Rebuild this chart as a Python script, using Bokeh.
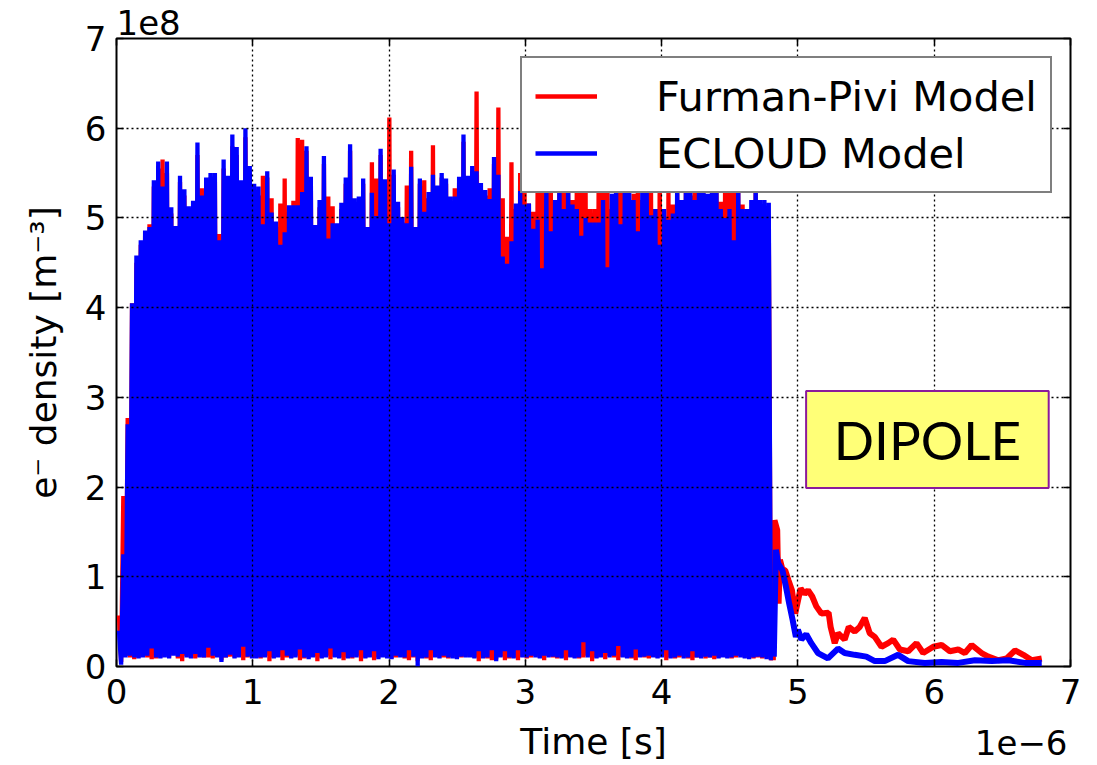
import numpy as np
from bokeh.plotting import figure
from bokeh.models import (Range1d, LinearAxis, FixedTicker, Legend, LegendItem,
                          BoxAnnotation, Label, Title, ColumnDataSource)
from bokeh.embed import file_html
from bokeh.resources import INLINE

# ---------------- data (time in 1e-6 s, density in 1e8 m^-3) ----------------
BUNCH_START = 0.018     # first bunch time [us]
BUNCH_SPACING = 0.032   # bunch spacing [us]

fp_peaks = [0.57, 1.90, 2.77, 4.05, 4.50, 4.70, 4.80, 4.93, 5.35, 5.55,
            5.65, 5.50, 5.05, 4.85, 5.40, 5.25, 5.05, 5.10, 5.70, 5.33,
            5.35, 5.45, 5.40, 4.82, 5.55, 5.40, 5.80, 5.70, 5.35, 5.90,
            5.50, 5.30, 5.25, 5.47, 5.45, 5.22, 4.90, 5.16, 5.44, 5.05,
            5.19, 5.89, 5.87, 5.75, 5.40, 4.85, 5.12, 5.60, 5.24, 5.13,
            4.88, 5.10, 5.38, 5.75, 5.15, 5.18, 5.38, 4.85, 5.62, 5.44,
            5.70, 5.38, 6.12, 5.48, 5.12, 4.95, 5.36, 5.75, 4.90, 5.38,
            5.42, 5.22, 5.81, 5.30, 5.45, 5.38, 5.18, 5.33, 5.40, 5.85,
            5.40, 5.52, 6.41, 5.32, 5.25, 5.33, 5.60, 6.23, 5.22, 4.79,
            5.62, 5.10, 5.50, 5.30, 5.16, 5.07, 5.40, 5.60, 5.35, 5.60,
            5.00, 5.40, 5.50, 5.30, 5.20, 5.60, 5.50, 5.30, 5.10, 5.10,
            5.50, 5.45, 5.55, 5.10, 5.30, 5.50, 5.35, 5.20, 5.27, 5.50,
            5.20, 5.30, 5.30, 5.10, 5.50, 5.00, 5.30, 5.15, 5.30, 5.10,
            5.30, 5.25, 5.45, 5.35, 5.30, 5.10, 5.30, 5.30, 5.18, 5.50,
            5.45, 5.50, 5.30, 5.15, 5.05, 4.90, 5.30, 5.00, 5.03, 5.00]

fp_troughs = [0.05, 0.12, 0.10, 0.08, 0.10, 0.12, 0.10, 0.08, 0.09, 0.10,
              0.12, 0.10, 0.13, 0.09, 0.06, 0.12, 0.10, 0.09, 0.11, 0.10,
              0.10, 0.09, 0.12, 0.07, 0.10, 0.11, 0.10, 0.12, 0.07, 0.10,
              0.11, 0.10, 0.09, 0.12, 0.06, 0.10, 0.11, 0.07, 0.10, 0.10,
              0.12, 0.07, 0.09, 0.10, 0.11, 0.06, 0.10, 0.12, 0.08, 0.11,
              0.10, 0.07, 0.10, 0.09, 0.12, 0.06, 0.10, 0.11, 0.07, 0.10,
              0.11, 0.10, 0.09, 0.10, 0.12, 0.09, 0.07, 0.10, 0.06, 0.10,
              0.09, 0.07, 0.12, 0.10, 0.10, 0.09, 0.11, 0.10, 0.10, 0.11,
              0.12, 0.10, 0.06, 0.10, 0.09, 0.07, 0.08, 0.11, 0.07, 0.09,
              0.10, 0.07, 0.11, 0.09, 0.10, 0.12, 0.10, 0.07, 0.12, 0.10,
              0.09, 0.10, 0.07, 0.11, 0.10, 0.09, 0.10, 0.12, 0.06, 0.10,
              0.11, 0.08, 0.12, 0.10, 0.07, 0.11, 0.10, 0.09, 0.07, 0.11,
              0.10, 0.09, 0.11, 0.10, 0.12, 0.07, 0.10, 0.09, 0.10, 0.11,
              0.09, 0.07, 0.10, 0.11, 0.09, 0.10, 0.08, 0.10, 0.11, 0.10,
              0.09, 0.10, 0.12, 0.10, 0.10, 0.09, 0.10, 0.09, 0.10, 0.07]

ec_peaks = [0.40, 1.25, 2.70, 4.05, 4.58, 4.75, 4.86, 4.90, 5.42, 5.63,
            5.35, 5.63, 5.12, 4.91, 5.47, 5.32, 5.13, 5.19, 5.84, 5.25,
            5.45, 5.50, 5.50, 4.75, 5.65, 5.47, 5.93, 5.79, 5.42, 6.00,
            5.58, 5.38, 5.35, 4.93, 5.52, 5.06, 4.96, 4.70, 4.84, 5.14,
            5.14, 5.14, 5.29, 5.80, 5.46, 4.92, 5.20, 5.69, 4.77, 4.94,
            4.94, 5.17, 5.45, 5.82, 5.22, 5.24, 5.44, 4.90, 5.28, 5.02,
            5.77, 5.43, 4.94, 5.54, 5.18, 5.01, 4.94, 5.57, 4.90, 5.44,
            5.07, 5.29, 5.48, 5.36, 5.50, 5.44, 5.24, 5.24, 5.46, 5.93,
            5.47, 5.58, 5.52, 5.39, 5.31, 5.21, 5.68, 5.48, 4.57, 4.49,
            4.74, 5.16, 5.30, 5.15, 5.16, 4.88, 4.98, 4.44, 5.45, 4.85,
            5.20, 5.45, 5.10, 5.50, 5.15, 5.10, 4.80, 5.00, 4.95, 4.95,
            4.95, 5.20, 4.45, 5.27, 5.45, 4.93, 5.50, 5.40, 5.20, 4.85,
            5.30, 5.45, 5.03, 5.10, 4.70, 5.10, 4.98, 5.05, 5.45, 5.20,
            5.45, 5.40, 5.20, 5.45, 5.40, 5.27, 5.45, 5.40, 5.10, 5.00,
            5.10, 4.75, 5.40, 5.10, 5.10, 5.20, 5.40, 5.20, 5.20, 5.17]

ec_troughs = [0.02, 0.10, 0.12, 0.10, 0.09, 0.10, 0.12, 0.20, 0.10, 0.09,
              0.10, 0.09, 0.12, 0.11, 0.14, 0.10, 0.09, 0.14, 0.10, 0.10,
              0.21, 0.12, 0.10, 0.05, 0.10, 0.13, 0.09, 0.10, 0.22, 0.11,
              0.09, 0.09, 0.10, 0.10, 0.17, 0.09, 0.10, 0.18, 0.12, 0.09,
              0.10, 0.19, 0.10, 0.08, 0.10, 0.15, 0.09, 0.10, 0.20, 0.10,
              0.09, 0.16, 0.09, 0.10, 0.10, 0.18, 0.09, 0.10, 0.17, 0.08,
              0.10, 0.09, 0.08, 0.12, 0.10, 0.10, 0.18, 0.11, 0.00, 0.09,
              0.10, 0.18, 0.10, 0.09, 0.12, 0.10, 0.09, 0.08, 0.11, 0.10,
              0.10, 0.09, 0.17, 0.09, 0.10, 0.18, 0.06, 0.10, 0.17, 0.10,
              0.09, 0.18, 0.10, 0.10, 0.12, 0.10, 0.09, 0.12, 0.10, 0.11,
              0.10, 0.09, 0.18, 0.10, 0.09, 0.10, 0.27, 0.10, 0.17, 0.09,
              0.10, 0.15, 0.10, 0.12, 0.23, 0.10, 0.09, 0.10, 0.19, 0.10,
              0.11, 0.12, 0.10, 0.09, 0.10, 0.18, 0.09, 0.10, 0.12, 0.09,
              0.10, 0.17, 0.10, 0.09, 0.11, 0.10, 0.12, 0.09, 0.10, 0.09,
              0.10, 0.12, 0.10, 0.09, 0.08, 0.10, 0.11, 0.10, 0.08, 0.07]

# decay after the bunch train
fp_tail_t = [4.816, 4.828, 4.848, 4.858, 4.868, 4.885, 4.907, 4.931, 4.956, 4.980,
             5.020, 5.049, 5.074, 5.105, 5.135, 5.172, 5.225, 5.240, 5.270, 5.294,
             5.343, 5.373, 5.417, 5.453, 5.490, 5.527, 5.564, 5.613, 5.662, 5.699,
             5.748, 5.809, 5.870, 5.919, 5.993, 6.054, 6.115, 6.176, 6.225, 6.275,
             6.348, 6.397, 6.471, 6.532, 6.593, 6.654, 6.716, 6.789]
fp_tail_v = [0.07, 1.63, 1.52, 0.70, 1.19, 1.09, 1.07, 0.96, 0.85, 0.59,
             0.87, 0.81, 0.85, 0.78, 0.67, 0.59, 0.60, 0.44, 0.26, 0.37,
             0.30, 0.44, 0.39, 0.44, 0.54, 0.37, 0.33, 0.22, 0.26, 0.30,
             0.19, 0.17, 0.26, 0.15, 0.22, 0.24, 0.17, 0.19, 0.15, 0.24,
             0.15, 0.11, 0.07, 0.09, 0.18, 0.13, 0.07, 0.09]

ec_tail_t = [4.823, 4.838, 4.855, 4.887, 4.912, 4.936, 4.961, 4.985, 5.000, 5.025,
             5.061, 5.098, 5.147, 5.220, 5.294, 5.343, 5.417, 5.502, 5.564, 5.637,
             5.735, 5.809, 5.931, 6.054, 6.176, 6.299, 6.422, 6.544, 6.667, 6.789]
ec_tail_v = [0.11, 1.30, 1.15, 1.07, 0.89, 0.70, 0.52, 0.33, 0.41, 0.30,
             0.36, 0.26, 0.15, 0.09, 0.20, 0.15, 0.13, 0.11, 0.06, 0.06,
             0.13, 0.06, 0.04, 0.05, 0.04, 0.07, 0.06, 0.07, 0.04, 0.04]

x_ticks = [0, 1, 2, 3, 4, 5, 6, 7]
y_ticks = [0, 1, 2, 3, 4, 5, 6, 7]


def train(peaks, troughs):
    n = len(peaks)
    t = BUNCH_START + BUNCH_SPACING * np.arange(n)
    xs = np.empty(2 * n)
    ys = np.empty(2 * n)
    xs[0::2] = t
    xs[1::2] = t + BUNCH_SPACING / 2
    ys[0::2] = peaks
    ys[1::2] = troughs
    return ColumnDataSource(dict(x=xs, y=ys))


FONT = "DejaVu Sans"

p = figure(width=1097, height=765, output_backend="svg", toolbar_location=None,
           x_range=Range1d(0, 7), y_range=Range1d(0, 7),
           min_border_left=116, min_border_right=27, min_border_top=38,
           min_border_bottom=99)
p.background_fill_color = "white"
p.border_fill_color = "white"
p.outline_line_color = "black"
p.outline_line_width = 2

RED = "#ff0000"
BLUE = "#0000ff"

r_fp = p.line("x", "y", source=train(fp_peaks, fp_troughs), line_color=RED, line_width=4.3)
p.line(fp_tail_t, fp_tail_v, line_color=RED, line_width=6)
r_ec = p.line("x", "y", source=train(ec_peaks, ec_troughs), line_color=BLUE, line_width=4.3)
p.line(ec_tail_t, ec_tail_v, line_color=BLUE, line_width=6)

# axes
for ax in (p.xaxis[0], p.yaxis[0]):
    ax.axis_line_color = None
    ax.major_tick_in = 7
    ax.major_tick_out = 0
    ax.major_tick_line_color = "black"
    ax.major_tick_line_width = 1.5
    ax.minor_tick_line_color = None
    ax.major_label_text_font = FONT
    ax.major_label_text_font_size = "34px"
    ax.major_label_text_color = "black"
    ax.axis_label_text_font = FONT
    ax.axis_label_text_font_size = "36px"
    ax.axis_label_text_font_style = "normal"
    ax.axis_label_text_color = "black"

p.xaxis[0].ticker = FixedTicker(ticks=x_ticks)
p.yaxis[0].ticker = FixedTicker(ticks=y_ticks)
p.xaxis[0].axis_label = "Time [s]"
p.yaxis[0].axis_label = "e\u207b density [m\u207b\u00b3]"
p.xaxis[0].major_label_standoff = 12
p.xaxis[0].axis_label_standoff = 14
p.yaxis[0].major_label_standoff = 10
p.yaxis[0].axis_label_standoff = 18

# mirrored tick marks on top and right (no labels)
for loc, ticks in (("above", x_ticks), ("right", y_ticks)):
    ax = LinearAxis(ticker=FixedTicker(ticks=ticks), axis_line_color=None,
                    major_tick_in=7, major_tick_out=0, major_tick_line_color="black",
                    major_tick_line_width=1.5, minor_tick_line_color=None,
                    major_label_overrides={t: "" for t in ticks},
                    major_label_standoff=0)
    p.add_layout(ax, loc)

# grid (drawn over the data, dotted)
for g in (p.xgrid[0], p.ygrid[0]):
    g.grid_line_color = "black"
    g.grid_line_dash = "2 3"
    g.grid_line_width = 1.3
    g.level = "guide"
p.xgrid[0].ticker = FixedTicker(ticks=x_ticks)
p.ygrid[0].ticker = FixedTicker(ticks=y_ticks)

# offset (exponent) labels
p.add_layout(Label(x=0, y=7, text="1e8", text_font=FONT, text_font_size="34px",
                   text_align="left", text_baseline="bottom", y_offset=4,
                   text_color="black"), "above")
p.add_layout(Title(text="1e\u22126", align="right", vertical_align="top",
                   standoff=-70, offset=3, text_font=FONT, text_font_size="34px",
                   text_font_style="normal", text_color="black"), "below")

# DIPOLE box
p.add_layout(BoxAnnotation(left=5.06, right=6.84, bottom=1.99, top=3.07,
                           fill_color="#ffff77", fill_alpha=1.0,
                           line_color="#8b1a9b", line_width=2, line_alpha=1.0))
p.add_layout(Label(x=5.95, y=2.53, text="DIPOLE", text_font="Lato",
                   text_font_size="53px", text_align="center",
                   text_baseline="middle", text_color="black"))

legend = Legend(items=[LegendItem(label="Furman-Pivi Model", renderers=[r_fp]),
                       LegendItem(label="ECLOUD Model", renderers=[r_ec])],
                location=(404, 473), orientation="vertical",
                label_text_font=FONT, label_text_font_size="41.5px",
                label_text_color="black",
                glyph_width=62, glyph_height=50, label_height=50,
                label_standoff=59, padding=13, spacing=7, margin=0,
                border_line_color="black", border_line_width=2,
                background_fill_color="white", background_fill_alpha=1.0)
p.add_layout(legend)

open("out.html", "w").write(file_html(p, INLINE))
